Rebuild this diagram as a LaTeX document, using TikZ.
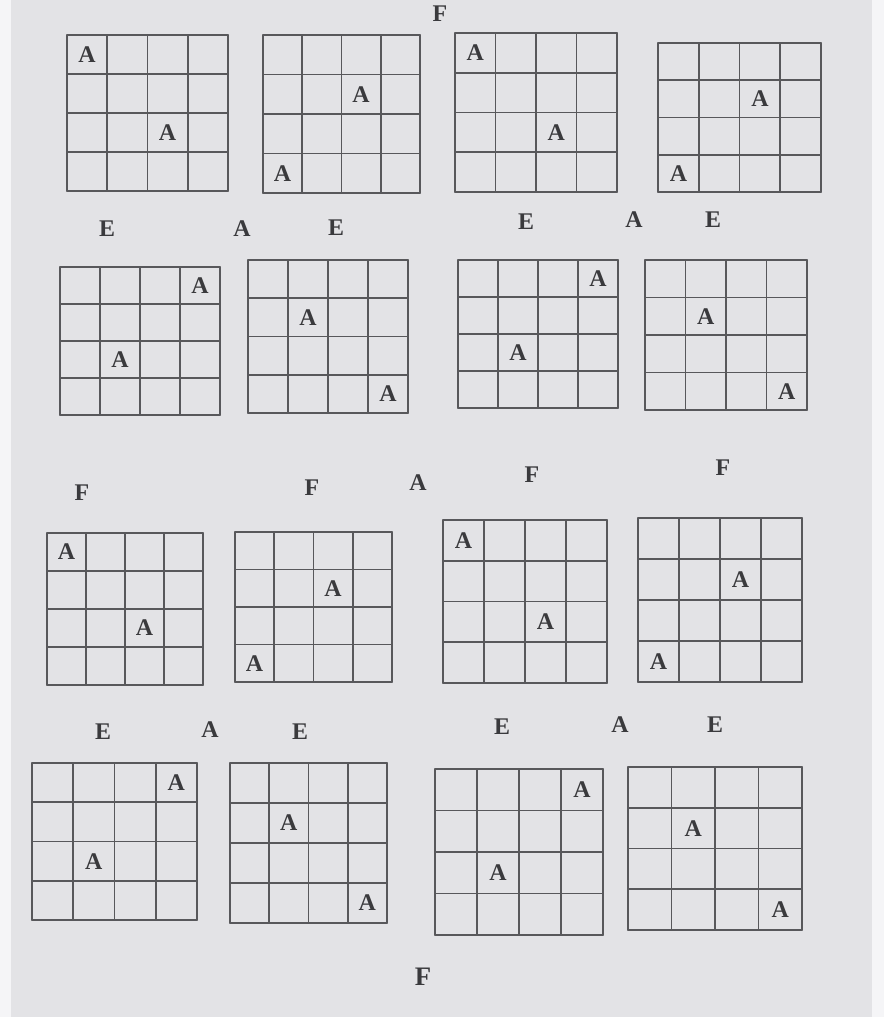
\documentclass[tikz,border=0pt]{standalone}
\usepackage{fontspec}
\setmainfont{Liberation Serif}
\usepackage{xcolor}
\definecolor{colPaper}{HTML}{E3E3E6}
\definecolor{colEdge}{HTML}{F5F5F7}
\definecolor{colLine}{HTML}{58585B}
\definecolor{colInk}{HTML}{3A3A3D}
\usepackage{tikz}

% one 4x4 sheet: name, left, top, right, bottom, list of col/row with an A
\newcommand{\sheet}[6]{%
    \begin{scope}[shift={(#2,#3)}, xscale={(#4-#2)/4}, yscale={(#5-#3)/4}]
        \foreach \i in {0,...,4}{
            \draw[cellline] (\i,0) -- (\i,4);
            \draw[cellline] (0,\i) -- (4,\i);}
        \foreach \c/\r [count=\k] in {#6}{
            \node[cellA] (#1-\k) at (\c+0.5,\r+0.5) {A};}
    \end{scope}}

\begin{document}
\begin{tikzpicture}[x=0.025cm, y=-0.025cm,
        cellline/.style={colLine, line width=1.1pt, line cap=round},
        cellA/.style={text=colInk, font=\fontsize{17}{20}\selectfont\bfseries, inner sep=0pt},
        tag/.style={text=colInk, font=\fontsize{17}{20}\selectfont\bfseries, inner sep=0pt}]
    % Paper
    \useasboundingbox (0,0) rectangle (884,1017);
    \fill[colPaper] (0,0) rectangle (884,1017);
    \fill[colEdge] (0,0) rectangle (11,1017);
    \fill[colEdge] (872,0) rectangle (884,1017);
    % Row 1
    \node[tag] (topF) at (440,14) {F};
    \sheet{s1}{67}{35}{228}{191}{0/0, 2/2}
    \sheet{s2}{263}{35}{420}{193}{2/1, 0/3}
    \sheet{s3}{455}{33}{617}{192}{0/0, 2/2}
    \sheet{s4}{658}{43}{821}{192}{2/1, 0/3}
    \node[tag] (e1) at (107,229) {E};
    \node[tag] (a1) at (242,229) {A};
    \node[tag] (e2) at (336,228) {E};
    \node[tag] (e3) at (526,222) {E};
    \node[tag] (a2) at (634,220) {A};
    \node[tag] (e4) at (713,220) {E};
    % Row 2
    \sheet{s5}{60}{267}{220}{415}{3/0, 1/2}
    \sheet{s6}{248}{260}{408}{413}{1/1, 3/3}
    \sheet{s7}{458}{260}{618}{408}{3/0, 1/2}
    \sheet{s8}{645}{260}{807}{410}{1/1, 3/3}
    \node[tag] (f1) at (82,493) {F};
    \node[tag] (f2) at (312,488) {F};
    \node[tag] (a3) at (418,483) {A};
    \node[tag] (f3) at (532,475) {F};
    \node[tag] (f4) at (723,468) {F};
    % Row 3
    \sheet{s9}{47}{533}{203}{685}{0/0, 2/2}
    \sheet{s10}{235}{532}{392}{682}{2/1, 0/3}
    \sheet{s11}{443}{520}{607}{683}{0/0, 2/2}
    \sheet{s12}{638}{518}{802}{682}{2/1, 0/3}
    \node[tag] (e5) at (103,732) {E};
    \node[tag] (a4) at (210,730) {A};
    \node[tag] (e6) at (300,732) {E};
    \node[tag] (e7) at (502,727) {E};
    \node[tag] (a5) at (620,725) {A};
    \node[tag] (e8) at (715,725) {E};
    % Row 4
    \sheet{s13}{32}{763}{197}{920}{3/0, 1/2}
    \sheet{s14}{230}{763}{387}{923}{1/1, 3/3}
    \sheet{s15}{435}{769}{603}{935}{3/0, 1/2}
    \sheet{s16}{628}{767}{802}{930}{1/1, 3/3}
    \node[tag, font=\fontsize{19}{23}\selectfont\bfseries] (botF) at (423,977) {F};
\end{tikzpicture}
\end{document}
